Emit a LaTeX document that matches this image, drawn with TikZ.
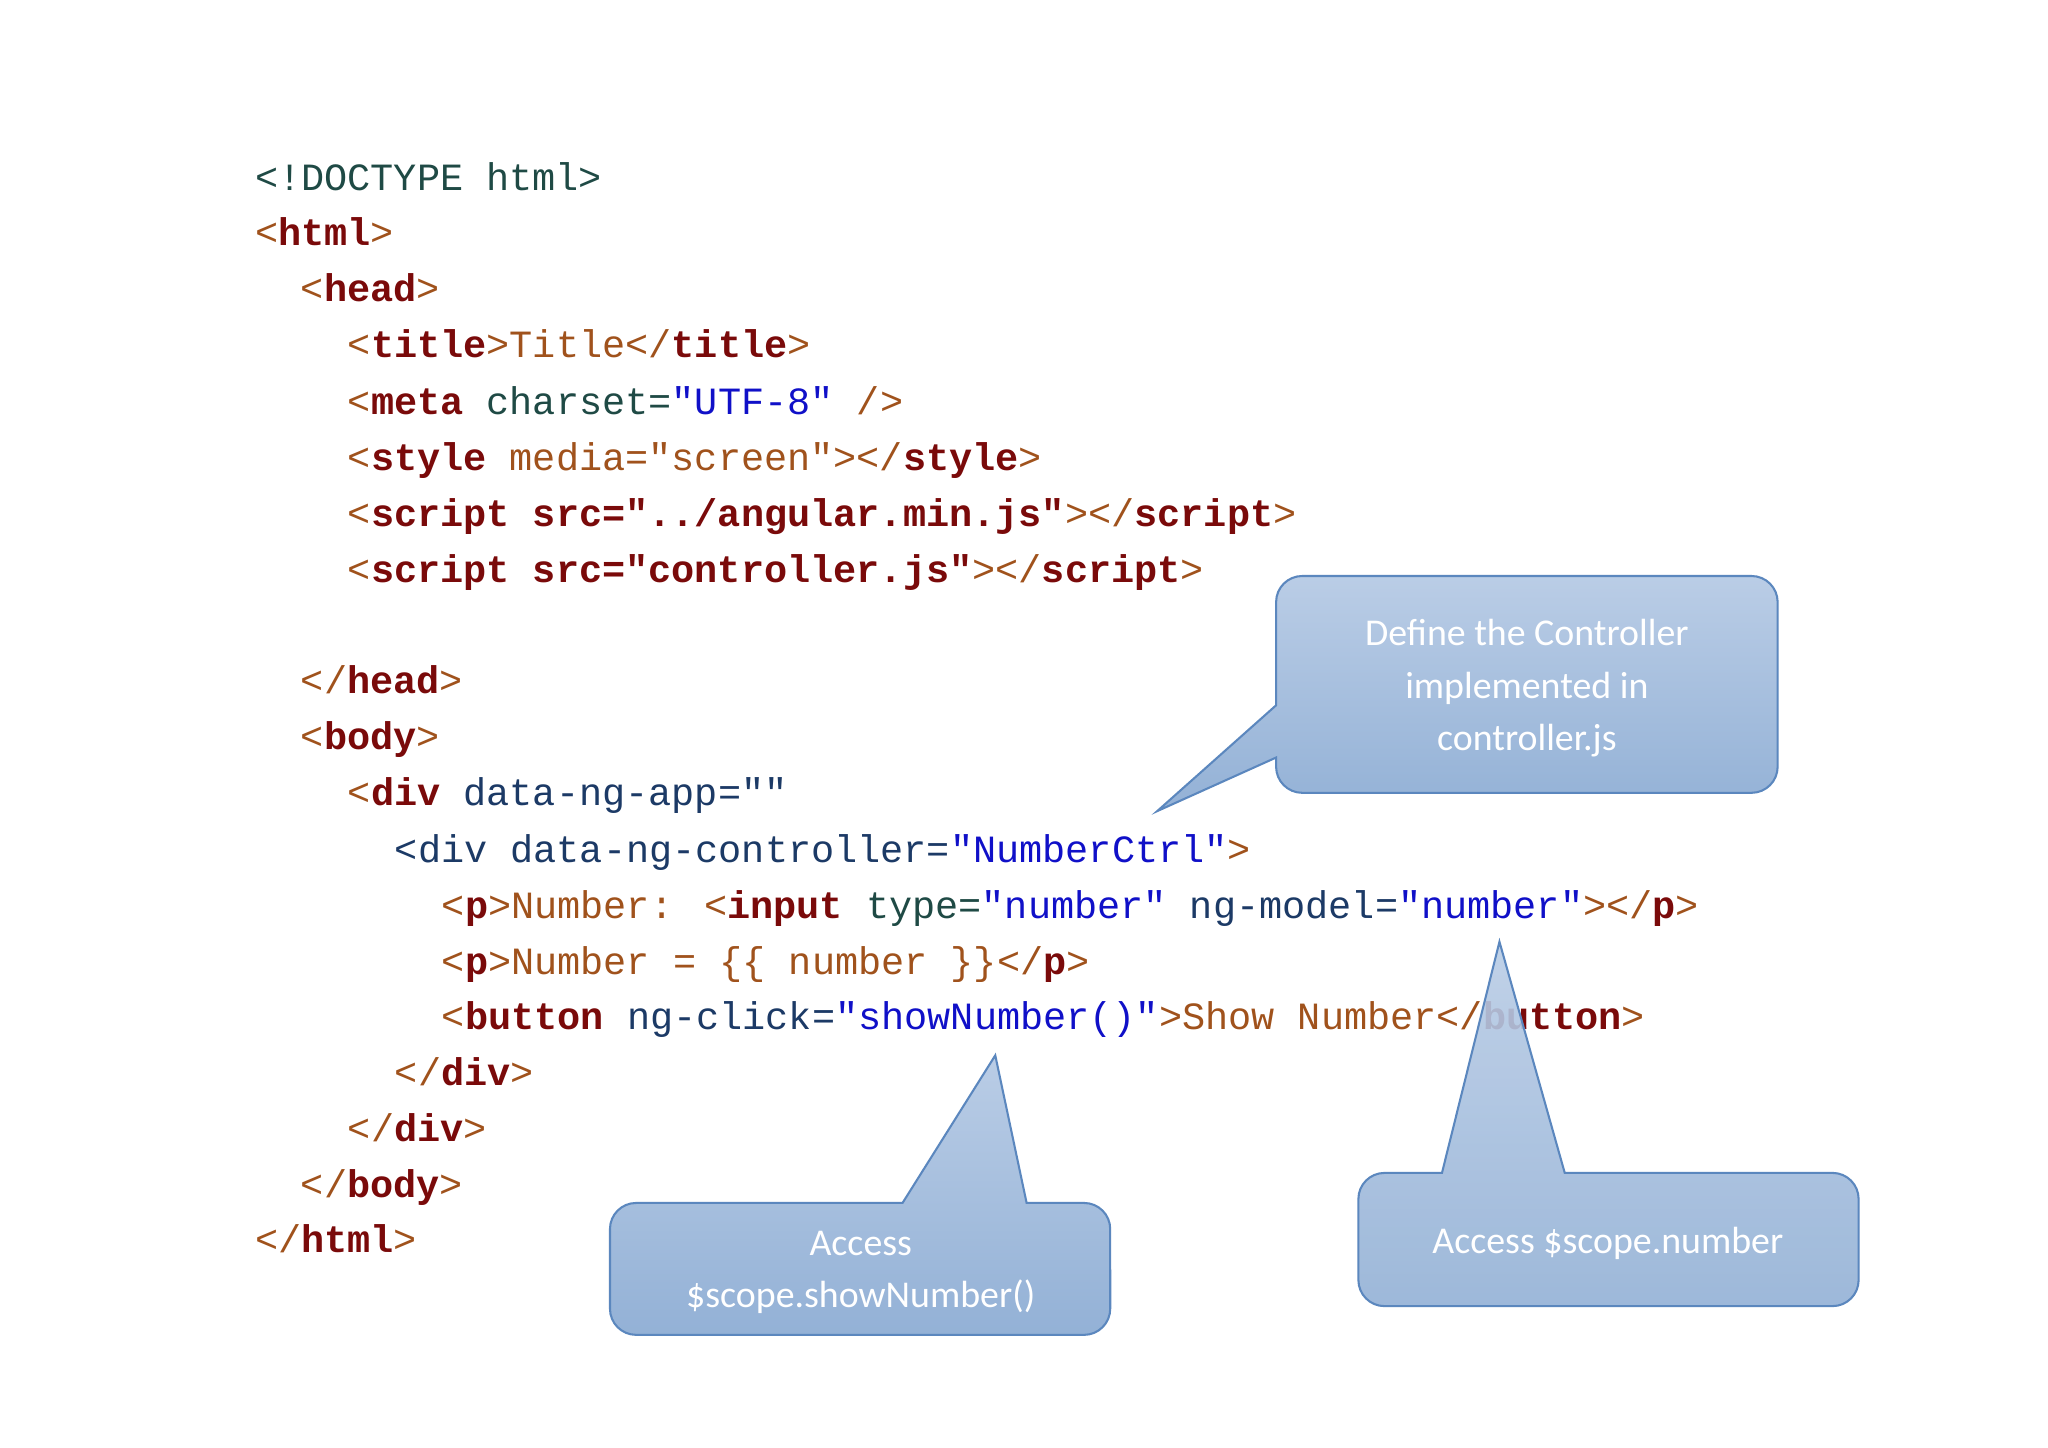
\documentclass[tikz,border=0pt]{standalone}
\usepackage{fontspec}
\newfontfamily\codefont[Ligatures=NoCommon]{Liberation Mono}
\newfontfamily\callfont{Carlito}
\definecolor{cbr}{HTML}{A0521C}
\definecolor{ctg}{HTML}{7A0A0A}
\definecolor{cat}{HTML}{1C3A66}
\definecolor{cvl}{HTML}{1010C8}
\definecolor{cdt}{HTML}{1F4A45}
\definecolor{ctop}{HTML}{BACDE6}
\definecolor{cbot}{HTML}{93B1D6}
\definecolor{cedge}{HTML}{5B87BE}
\newcommand{\Bk}[1]{\textcolor{cbr}{#1}}
\newcommand{\Tg}[1]{\textcolor{ctg}{\bfseries #1}}
\newcommand{\At}[1]{\textcolor{cat}{#1}}
\newcommand{\Vl}[1]{\textcolor{cvl}{#1}}
\tikzset{codeline/.style={anchor=base west,inner sep=0pt,font=\codefont\fontsize{16.8pt}{20pt}\selectfont},
 callout/.style={top color=ctop,bottom color=cbot,draw=cedge,line width=0.9pt},
 calltext/.style={align=center,text=white,font=\callfont\fontsize{16.5pt}{22.8pt}\selectfont}}
\begin{document}
\begin{tikzpicture}[x=0.02cm,y=0.02cm]
\useasboundingbox[fill=white] (0,0) rectangle (1568,-1108);
\node[codeline] (l1) at (195,-146) {\textcolor{cdt}{<!DOCTYPE html>}};
\node[codeline] (l2) at (195,-188) {\Bk{<}\Tg{html}\Bk{>}};
\node[codeline] (l3) at (230,-231) {\Bk{<}\Tg{head}\Bk{>}};
\node[codeline] (l4) at (266,-274) {\Bk{<}\Tg{title}\Bk{>Title</}\Tg{title}\Bk{>}};
\node[codeline] (l5) at (266,-317) {\Bk{<}\Tg{meta} \textcolor{cdt}{charset=}\Vl{"UTF-8"} \Bk{/>}};
\node[codeline] (l6) at (266,-360) {\Bk{<}\Tg{style} \Bk{media="screen"></}\Tg{style}\Bk{>}};
\node[codeline] (l7) at (266,-403) {\Bk{<}\Tg{script src="../angular.min.js"}\Bk{></}\Tg{script}\Bk{>}};
\node[codeline] (l8) at (266,-446) {\Bk{<}\Tg{script src="controller.js"}\Bk{></}\Tg{script}\Bk{>}};
\node[codeline] (l9) at (230,-531) {\Bk{</}\Tg{head}\Bk{>}};
\node[codeline] (l10) at (230,-574) {\Bk{<}\Tg{body}\Bk{>}};
\node[codeline] (l11) at (266,-617) {\Bk{<}\Tg{div} \At{data-ng-app=""}};
\node[codeline] (l12) at (302,-660) {\At{<div data-ng-controller=}\Vl{"NumberCtrl"}\Bk{>}};
\node[codeline] (l13) at (338,-703) {\Bk{<}\Tg{p}\Bk{>Number: <}\Tg{input} \textcolor{cdt}{type=}\Vl{"number"} \At{ng-model=}\Vl{"number"}\Bk{></}\Tg{p}\Bk{>}};
\node[codeline] (l14) at (338,-746) {\Bk{<}\Tg{p}\Bk{>Number = \{\{ number \}\}</}\Tg{p}\Bk{>}};
\node[codeline] (l15) at (338,-788) {\Bk{<}\Tg{button} \At{ng-click=}\Vl{"showNumber()"}\Bk{>Show Number</}\Tg{button}\Bk{>}};
\node[codeline] (l16) at (302,-831) {\Bk{</}\Tg{div}\Bk{>}};
\node[codeline] (l17) at (266,-874) {\Bk{</}\Tg{div}\Bk{>}};
\node[codeline] (l18) at (230,-917) {\Bk{</}\Tg{body}\Bk{>}};
\node[codeline] (l19) at (195,-959) {\Bk{</}\Tg{html}\Bk{>}};
% callout 1
\draw[callout] (997,-441) -- (1341,-441) arc[start angle=90,end angle=0,radius=0.4cm] -- (1361,-587) arc[start angle=0,end angle=-90,radius=0.4cm] -- (997,-607) arc[start angle=270,end angle=180,radius=0.4cm] -- (977,-580) -- (886,-621) -- (977,-540) -- (977,-461) arc[start angle=180,end angle=90,radius=0.4cm] -- cycle;
\node[calltext] (c1) at (1169,-527) {Define the Controller\\implemented in\\controller.js};
% callout 2
\draw[callout] (487,-921) -- (691,-921) -- (762,-808) -- (786,-921) -- (830,-921) arc[start angle=90,end angle=0,radius=0.4cm] -- (850,-1002) arc[start angle=0,end angle=-90,radius=0.4cm] -- (487,-1022) arc[start angle=270,end angle=180,radius=0.4cm] -- (467,-941) arc[start angle=180,end angle=90,radius=0.4cm] -- cycle;
\node[calltext] (c2) at (659,-974) {Access\\\$scope.showNumber()};
% callout 3
\draw[callout,fill opacity=0.9] (1060,-898) -- (1104,-898) -- (1148,-721) -- (1198,-898) -- (1403,-898) arc[start angle=90,end angle=0,radius=0.4cm] -- (1423,-980) arc[start angle=0,end angle=-90,radius=0.4cm] -- (1060,-1000) arc[start angle=270,end angle=180,radius=0.4cm] -- (1040,-918) arc[start angle=180,end angle=90,radius=0.4cm] -- cycle;
\node[calltext] (c3) at (1231,-952) {Access \$scope.number};
\end{tikzpicture}
\end{document}
